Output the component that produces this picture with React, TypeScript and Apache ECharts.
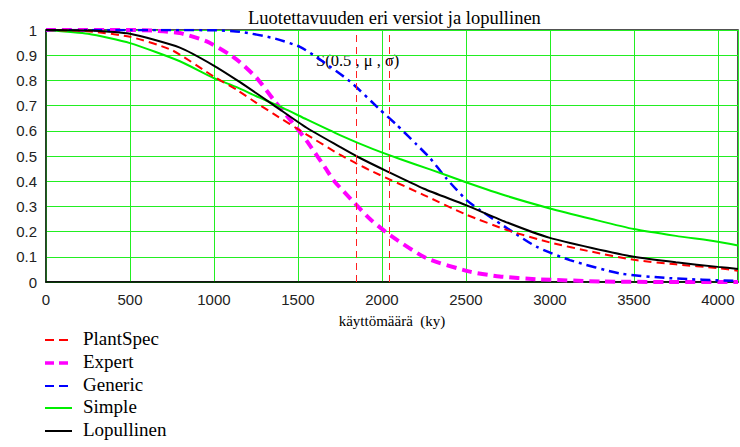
import React, { useEffect, useRef } from "react";
import * as echarts from "echarts";

const titleText = "Luotettavuuden eri versiot ja lopullinen";
const xAxisName = "käyttömäärä  (ky)";
const annotation = "S(0.5 , μ , σ)";
const legendNames = ["PlantSpec", "Expert", "Generic", "Simple", "Lopullinen"];

const plantSpecX = [0, 250, 500, 750, 1000, 1135, 1250, 1353, 1552, 1750, 1850, 1948, 2250, 2500, 2750, 3000, 3250, 3500, 3750, 4000, 4120];
const plantSpecY = [1, 0.995, 0.973, 0.92, 0.815, 0.763, 0.712, 0.668, 0.585, 0.505, 0.47, 0.437, 0.345, 0.268, 0.205, 0.157, 0.12, 0.088, 0.07, 0.055, 0.045];

const expertX = [0, 500, 650, 797, 957, 1095, 1155, 1254, 1353, 1452, 1552, 1671, 1710, 1849, 1929, 2048, 2266, 2524, 2700, 2920, 3315, 3700, 4120];
const expertY = [1, 1, 0.997, 0.988, 0.955, 0.902, 0.872, 0.81, 0.725, 0.645, 0.56, 0.445, 0.405, 0.305, 0.25, 0.186, 0.094, 0.041, 0.022, 0.011, 0.002, 0, 0];

const genericX = [0, 500, 1000, 1155, 1353, 1512, 1611, 1810, 1988, 2087, 2207, 2286, 2385, 2504, 2583, 2762, 2920, 3119, 3417, 3714, 4120];
const genericY = [1, 1, 0.999, 0.993, 0.968, 0.933, 0.892, 0.796, 0.684, 0.624, 0.545, 0.492, 0.41, 0.325, 0.286, 0.206, 0.14, 0.087, 0.034, 0.015, 0.004];

const simpleX = [0, 250, 500, 797, 996, 1135, 1250, 1413, 1552, 1750, 1948, 2107, 2286, 2500, 2750, 3000, 3250, 3500, 3750, 4000, 4120];
const simpleY = [1, 0.985, 0.948, 0.876, 0.81, 0.773, 0.738, 0.69, 0.645, 0.583, 0.527, 0.488, 0.447, 0.396, 0.34, 0.292, 0.25, 0.21, 0.183, 0.16, 0.145];

const finalX = [0, 250, 500, 797, 996, 1155, 1353, 1552, 1750, 1849, 2028, 2250, 2500, 2750, 3000, 3250, 3500, 3750, 4000, 4120];
const finalY = [1, 0.998, 0.985, 0.93, 0.86, 0.793, 0.703, 0.612, 0.536, 0.499, 0.44, 0.37, 0.305, 0.235, 0.175, 0.135, 0.1, 0.078, 0.06, 0.052];

const markerX = [1849, 2045];

const zip = (xs: number[], ys: number[]) => xs.map((x, i) => [x, ys[i]]);

const colors = ["#ff0000", "#ff00ff", "#0000ff", "#00ee00", "#000000"];
const widths = [2, 4, 2.5, 2, 2];
const dashes: (number[] | null)[] = [[8, 5], [10, 6], [10, 5, 3, 5], null, null];
const legendY = [340, 363, 386, 408, 431];

export default function App() {
  const ref = useRef<HTMLDivElement>(null);
  useEffect(() => {
    if (!ref.current) return;
    const chart = echarts.init(ref.current, undefined, { renderer: "svg" });
    const serif = "Times New Roman, Liberation Serif, serif";
    const sans = "Arial, Liberation Sans, sans-serif";
    const xs = [plantSpecX, expertX, genericX, simpleX, finalX];
    const ys = [plantSpecY, expertY, genericY, simpleY, finalY];
    const legendGraphics: any[] = [];
    legendNames.forEach((name, i) => {
      const y = legendY[i];
      legendGraphics.push({
        type: "line",
        shape: { x1: 45, y1: y, x2: 72, y2: y },
        style: {
          stroke: colors[i],
          lineWidth: i === 1 ? 3.5 : 2,
          lineDash: i >= 3 ? null : [9, 5],
        },
      });
      legendGraphics.push({
        type: "text",
        left: 83,
        top: y - 11,
        style: { text: name, fontFamily: serif, fontSize: 19, fill: "#000" },
      });
    });
    chart.setOption({
      animation: false,
      backgroundColor: "#fff",
      title: {
        text: titleText,
        left: 243,
        top: 3,
        textStyle: { fontFamily: serif, fontSize: 18.5, fontWeight: "normal", color: "#000" },
      },
      grid: {
        left: 46,
        right: 2,
        top: 30,
        bottom: 165,
        show: true,
        borderColor: "#1a1a1a",
        borderWidth: 1.5,
      },
      xAxis: {
        type: "value",
        min: 0,
        max: 4120,
        interval: 500,
        name: xAxisName,
        nameLocation: "middle",
        nameGap: 31,
        nameTextStyle: { fontFamily: serif, fontSize: 15, color: "#000" },
        axisLine: { show: true, lineStyle: { color: "#000", width: 1.5 } },
        axisTick: { show: false },
        axisLabel: {
          fontFamily: sans,
          fontSize: 15,
          color: "#222",
          margin: 10,
          showMaxLabel: false,
          formatter: (v: number) => String(v),
        },
        splitLine: { show: true, lineStyle: { color: "#22ee22", width: 1 } },
      },
      yAxis: {
        type: "value",
        min: 0,
        max: 1,
        interval: 0.1,
        axisLine: { show: true, lineStyle: { color: "#1a3a1a", width: 1.5 } },
        axisTick: { show: false },
        axisLabel: {
          fontFamily: sans,
          fontSize: 15,
          color: "#222",
          margin: 9,
          formatter: (v: number) => String(Math.round(v * 10) / 10),
        },
        splitLine: { show: true, lineStyle: { color: "#22ee22", width: 1 } },
      },
      graphic: [
        {
          type: "text",
          left: 316,
          top: 52,
          style: { text: annotation, fontFamily: serif, fontSize: 16.5, fill: "#000" },
        },
        ...legendGraphics,
      ],
      series: legendNames.map((name, i) => ({
        name,
        type: "line",
        smooth: 0.2,
        symbol: "none",
        data: zip(xs[i], ys[i]),
        lineStyle: { color: colors[i], width: widths[i], type: dashes[i] || "solid" },
        itemStyle: { color: colors[i] },
        z: i === 4 ? 4 : i === 0 ? 3 : 2,
        ...(i === 0
          ? {
              markLine: {
                silent: true,
                symbol: "none",
                label: { show: false },
                lineStyle: { color: "#ff2020", width: 1, type: [7, 5] },
                data: markerX.map((v) => ({ xAxis: v })),
              },
            }
          : {}),
      })),
    });
    return () => chart.dispose();
  }, []);
  return <div ref={ref} style={{ width: 740, height: 447, position: "absolute", left: 0, top: 0 }} />;
}
